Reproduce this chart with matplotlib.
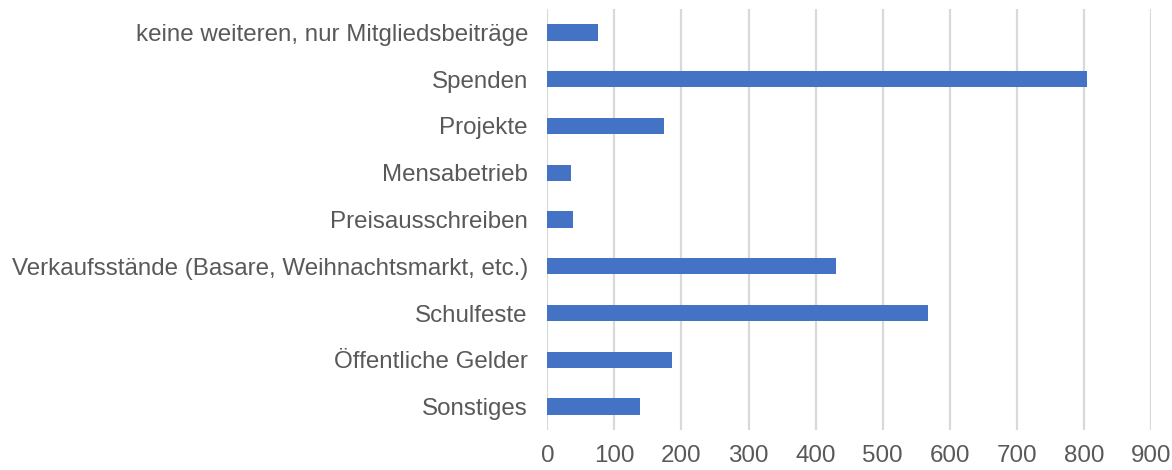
import matplotlib
matplotlib.use('Agg')
import matplotlib.pyplot as plt
import numpy as np

plt.rcParams['font.family'] = ['Liberation Sans', 'DejaVu Sans']

categories = ['keine weiteren, nur Mitgliedsbeiträge', 'Spenden', 'Projekte',
              'Mensabetrieb', 'Preisausschreiben',
              'Verkaufsstände (Basare, Weihnachtsmarkt, etc.)', 'Schulfeste',
              'Öffentliche Gelder', 'Sonstiges']
values = [76, 804, 174, 35, 38, 431, 567, 186, 138]
x_ticks = [0, 100, 200, 300, 400, 500, 600, 700, 800, 900]

bar_color = '#4472C4'
text_color = '#595959'
grid_color = '#D9D9D9'

fig = plt.figure(figsize=(11.72, 4.70), dpi=100)
ax = fig.add_axes([0.467, 0.085, 0.515, 0.896])

y = np.arange(len(categories))
ax.barh(y, values, height=0.35, color=bar_color, zorder=3)

ax.set_ylim(len(categories) - 0.5, -0.5)
ax.set_xlim(0, 900)
ax.set_yticks(y)
ax.set_yticklabels(categories)
ax.set_xticks(x_ticks)
ax.set_xticklabels([str(t) for t in x_ticks])

ax.tick_params(axis='both', length=0, labelsize=17.4, colors=text_color)
ax.tick_params(axis='x', pad=11)
ax.tick_params(axis='y', pad=14)

ax.grid(axis='x', color=grid_color, linewidth=1.6, zorder=0)
for s in ax.spines.values():
    s.set_visible(False)

fig.savefig('out.png', dpi=100)
